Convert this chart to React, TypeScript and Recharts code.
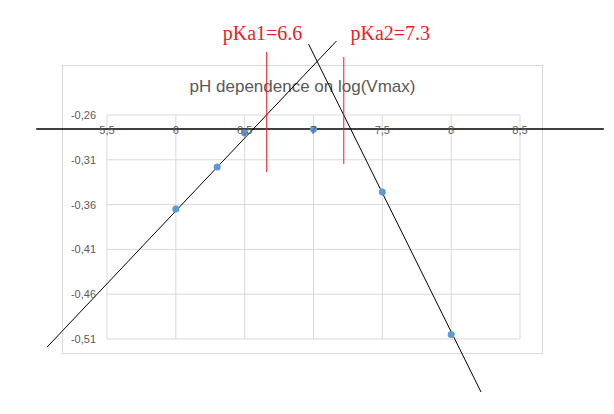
import {
  CartesianGrid,
  ComposedChart,
  ReferenceDot,
  ReferenceLine,
  Scatter,
  XAxis,
  YAxis,
} from "recharts";

const phValues = [6, 6.3, 6.5, 7, 7.5, 8];
const logVmax = [-0.365, -0.318, -0.28, -0.276, -0.346, -0.505];
const xTicks = [5.5, 6, 6.5, 7, 7.5, 8, 8.5];
const yTicks = [-0.51, -0.46, -0.41, -0.36, -0.31, -0.26];

// hand-drawn overlay on top of the excel chart
const fitLines = [
  [{ x: 5.065, y: -0.519 }, { x: 7.167, y: -0.1774 }],
  [{ x: 6.964, y: -0.1808 }, { x: 8.217, y: -0.5692 }],
];
const baseLine = [{ x: 4.986, y: -0.2756 }, { x: 9.109, y: -0.2756 }];
const pKaMarks = [
  [{ x: 6.66, y: -0.1897 }, { x: 6.66, y: -0.3236 }],
  [{ x: 7.22, y: -0.1953 }, { x: 7.22, y: -0.3147 }],
];
const pKaLabels = [
  { text: "pKa1=6.6", x: 6.63, y: -0.1685 },
  { text: "pKa2=7.3", x: 7.558, y: -0.1685 },
];

const RED = "#ed1c24";
const GRAY = "#595959";
const SANS = "'Liberation Sans', Arial, sans-serif";

const fmtX = (v: number) => String(v).replace(".", ",");
const fmtY = (v: number) => v.toFixed(2).replace(".", ",");

function TopTick(props: any) {
  const { x, y, payload } = props;
  return (
    <text x={x} y={y} dy={27} textAnchor="middle" fill={GRAY} fontSize={11} fontFamily={SANS}>
      {fmtX(payload.value)}
    </text>
  );
}

export default function App() {
  const data = phValues.map((x, i) => ({ x, y: logVmax[i] }));

  return (
    <div style={{ position: "absolute", left: 0, top: 0, width: 614, height: 414, background: "#fff" }}>
      <div
        style={{
          position: "absolute",
          left: 62,
          top: 65,
          width: 481,
          height: 289,
          boxSizing: "border-box",
          border: "1px solid #d9d9d9",
        }}
      />
      <div
        style={{
          position: "absolute",
          left: 62,
          top: 77,
          width: 481,
          textAlign: "center",
          fontFamily: SANS,
          fontSize: 17,
          lineHeight: "20px",
          color: GRAY,
        }}
      >
        pH dependence on log(Vmax)
      </div>
      <ComposedChart
        width={614}
        height={414}
        data={data}
        margin={{ top: 85, right: 94, bottom: 75, left: 62 }}
        style={{ position: "absolute", left: 0, top: 0 }}
      >
        <CartesianGrid stroke="#d9d9d9" />
        <XAxis
          dataKey="x"
          type="number"
          orientation="top"
          height={30}
          domain={[5.5, 8.5]}
          ticks={xTicks}
          tick={<TopTick />}
          tickSize={6}
          tickMargin={2}
          tickLine={false}
          axisLine={false}
          allowDataOverflow
        />
        <YAxis
          dataKey="y"
          type="number"
          width={45}
          domain={[-0.51, -0.26]}
          ticks={yTicks}
          tickFormatter={fmtY}
          tick={{ fill: GRAY, fontSize: 11, fontFamily: SANS }}
          tickLine={false}
          axisLine={false}
          tickMargin={5}
          allowDataOverflow
        />
        <Scatter
          data={data}
          fill="#5b9bd5"
          isAnimationActive={false}
          shape={(p: any) => <circle cx={p.cx} cy={p.cy} r={3.5} fill="#5b9bd5" />}
        />
        <ReferenceLine segment={baseLine} stroke="#000" strokeWidth={1.5} ifOverflow="visible" />
        {fitLines.map((seg, i) => (
          <ReferenceLine key={`fit${i}`} segment={seg} stroke="#000" strokeWidth={1} ifOverflow="visible" />
        ))}
        {pKaMarks.map((seg, i) => (
          <ReferenceLine key={`pka${i}`} segment={seg} stroke={RED} strokeWidth={1} ifOverflow="visible" />
        ))}
        {pKaLabels.map((l) => (
          <ReferenceDot
            key={l.text}
            x={l.x}
            y={l.y}
            r={0}
            fill="none"
            stroke="none"
            ifOverflow="visible"
            label={{
              value: l.text,
              position: "center",
              fill: RED,
              fontSize: 20,
              fontFamily: "'Liberation Serif', 'Times New Roman', serif",
            }}
          />
        ))}
      </ComposedChart>
    </div>
  );
}
